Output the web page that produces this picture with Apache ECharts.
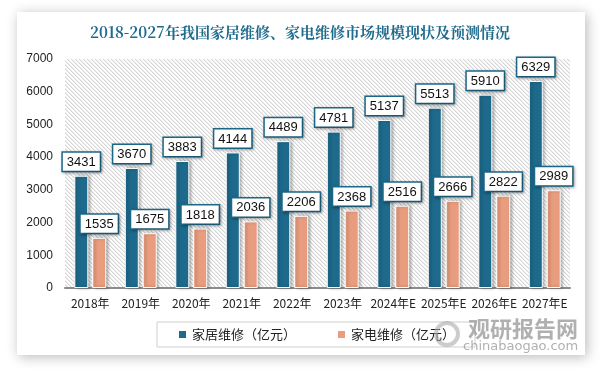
<!DOCTYPE html>
<html><head><meta charset="utf-8">
<script src="https://cdn.jsdelivr.net/npm/echarts@6/dist/echarts.min.js"></script>
<style>html,body{margin:0;padding:0;background:#fff;}#c{width:600px;height:369px;}</style>
</head><body><div id="c"></div>
<script>
const categories = ['2018年','2019年','2020年','2021年','2022年','2023年','2024年E','2025年E','2026年E','2027年E'];
const homeRepair = [3431,3670,3883,4144,4489,4781,5137,5513,5910,6329];
const applianceRepair = [1535,1675,1818,2036,2206,2368,2516,2666,2822,2989];
const seriesNames = ['家居维修（亿元）','家电维修（亿元）'];
const titleText = '2018-2027年我国家居维修、家电维修市场规模现状及预测情况';

const BLUE = '#1d6a8c', ORANGE = '#e99d7e';
const pc = document.createElement('canvas');
pc.width = 4; pc.height = 4;
const pctx = pc.getContext('2d');
pctx.fillStyle = '#ffffff'; pctx.fillRect(0,0,4,4);
pctx.fillStyle = '#d6d6d6';
for (let i = 0; i < 4; i++) { pctx.fillRect(i, i, 1, 1); }
pctx.fillStyle = '#ececec';
for (let i = 0; i < 4; i++) { pctx.fillRect((i+1)%4, i, 1, 1); }

const chart = echarts.init(document.getElementById('c'), null, {renderer:'canvas'});
const lbl = {
  show:true, position:'top', distance:5, color:'#111', fontSize:13,
  fontFamily:'"Liberation Sans", Arial, sans-serif',
  backgroundColor:'#fff', borderColor:BLUE, borderWidth:1.5, padding:[3,4,2,4],
  shadowColor:'rgba(0,0,0,0.35)', shadowBlur:3, shadowOffsetX:1, shadowOffsetY:1
};
chart.setOption({
  animation:false,
  backgroundColor:'#fff',
  graphic:[
    {type:'rect', z:-10, shape:{x:17,y:12,width:568,height:343}, style:{fill:'#fff', shadowBlur:12, shadowColor:'rgba(0,0,0,0.28)', shadowOffsetX:2, shadowOffsetY:2}},
    {type:'text', z:5, left:468, top:318, style:{text:'观研报告网', fill:'rgba(150,150,150,0.75)', font:'bold 22px "Noto Sans CJK SC", sans-serif'}},
    {type:'text', z:5, left:463, top:340, style:{text:'chinabaogao.com', fill:'rgba(150,150,150,0.75)', font:'13px "DejaVu Sans", sans-serif'}},
    {type:'circle', z:5, shape:{cx:447,cy:334,r:11}, style:{fill:'none', stroke:'rgba(170,170,170,0.6)', lineWidth:4}}
  ],
  title:{text:titleText, left:'center', top:20,
    textStyle:{color:'#1f6b8e', fontSize:15, fontWeight:'bold', fontFamily:'"Noto Serif CJK SC","Noto Sans CJK SC", serif'}},
  legend:{data:seriesNames, bottom:22, left:157, width:290, itemWidth:9, itemHeight:9, icon:'rect', itemGap:40,
    padding:[6,20,6,20], borderColor:'#cfcfcf', borderWidth:1,
    textStyle:{fontSize:13, color:'#222', fontFamily:'"Noto Sans CJK SC", sans-serif'}},
  grid:{left:65, right:30, top:59, bottom:81, show:true, borderWidth:0,
    backgroundColor:{image:pc, repeat:'repeat'}},
  xAxis:{type:'category', data:categories,
    axisLine:{lineStyle:{color:'#8c8c8c', width:2}}, axisTick:{show:false},
    axisLabel:{color:'#222', fontSize:12, margin:9, interval:0, fontFamily:'"Noto Sans CJK SC", sans-serif'}},
  yAxis:{type:'value', min:0, max:7000, interval:1000,
    axisLine:{show:false}, axisTick:{show:false}, splitLine:{show:false},
    axisLabel:{color:'#222', fontSize:12, margin:12, formatter:v => String(v), fontFamily:'"Liberation Sans", Arial, sans-serif'}},
  series:[
    {name:seriesNames[0], type:'bar', data:homeRepair, barWidth:14, barGap:'28%',
      itemStyle:{color:BLUE, borderColor:'#fff', borderWidth:1, shadowColor:'rgba(0,0,0,0.3)', shadowBlur:3, shadowOffsetX:2},
      label:lbl},
    {name:seriesNames[1], type:'bar', data:applianceRepair, barWidth:14,
      itemStyle:{color:ORANGE, borderColor:'#fff', borderWidth:1, shadowColor:'rgba(0,0,0,0.3)', shadowBlur:3, shadowOffsetX:2},
      label:lbl}
  ]
});
</script></body></html>
